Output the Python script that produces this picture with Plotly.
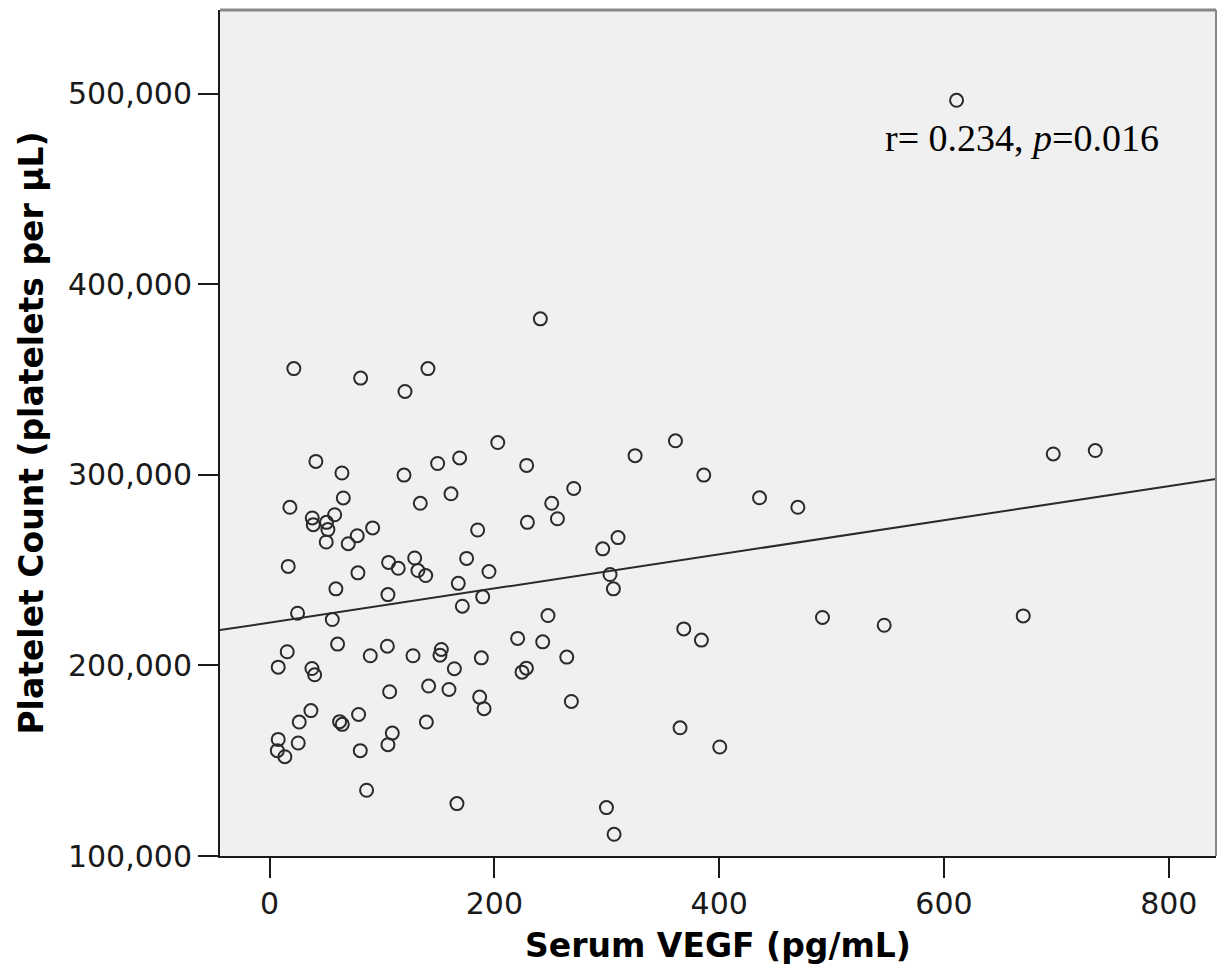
import plotly.graph_objects as go

# Serum VEGF (pg/mL)
vegf = [21.6, 81, 120.5, 140.9, 203, 41.2, 64.4, 119.6, 149.5, 169.1,
        18.1, 65.6, 134.1, 161.4, 38, 38.9, 50.7, 57.9, 51.9, 50.4,
        70, 78, 91.7, 185.1, 16.6, 78.6, 105.9, 114.5, 129.1, 132,
        138.9, 175.3, 195.2, 167.9, 59, 105.3, 189.6, 171.5, 24.9, 55.8,
        60.5, 15.7, 7.7, 37.7, 40.1, 89.6, 104.8, 127.6, 152.8, 151.6,
        164.4, 188.4, 106.8, 141.5, 159.6, 186.9, 190.8, 36.8, 26.4, 62.3,
        64.7, 79.2, 139.5, 109.2, 105.3, 80.7, 7.7, 6.9, 13.6, 25.5,
        86.3, 166.7, 240.9, 228.7, 325.2, 361.1, 386.3, 435.9, 270.6, 251,
        256.1, 229.4, 296.4, 310, 302.9, 305.9, 247.7, 220.7, 243, 264.4,
        228.5, 224.6, 268.5, 368.5, 384.2, 365.2, 400.5, 299.7, 306.5, 470,
        697.2, 734.6, 491.9, 546.8, 670.5, 611.2]

# Platelet count (platelets per uL)
platelets = [355800, 350800, 343800, 355800, 317000, 307100, 301000, 299900, 306000, 308900,
             283000, 287900, 285100, 290100, 277400, 273900, 275100, 279100, 271300, 264800,
             263900, 268100, 272200, 271100, 252000, 248600, 254100, 251000, 256400, 249800,
             247200, 256200, 249300, 243100, 240200, 237200, 236000, 231100, 227400, 224100,
             211200, 207200, 199100, 198400, 195100, 205100, 210100, 205100, 208400, 205400,
             198300, 204000, 186200, 189200, 187400, 183400, 177300, 176300, 170300, 170500,
             169100, 174300, 170300, 164500, 158400, 155300, 161200, 155300, 152100, 159300,
             134500, 127500, 381900, 305000, 310100, 317900, 299900, 288000, 292900, 285100,
             277000, 275100, 261200, 267100, 247700, 240200, 226200, 214200, 212400, 204400,
             198600, 196500, 181100, 219200, 213300, 167300, 157200, 125400, 111400, 283000,
             311000, 312800, 225200, 221100, 226000, 496600]

# Linear fit
fit_intercept = 222500
fit_slope = 89.5

x_range = [-44.1, 842]
y_range = [100000, 544000]
x_ticks = [0, 200, 400, 600, 800]
y_ticks = [100000, 200000, 300000, 400000, 500000]
y_tick_labels = ["100,000", "200,000", "300,000", "400,000", "500,000"]

fit_x = x_range
fit_y = [fit_intercept + fit_slope * v for v in fit_x]

fig = go.Figure()
fig.add_trace(go.Scatter(
    x=fit_x, y=fit_y, mode="lines",
    line=dict(color="#2a2a2a", width=2), hoverinfo="skip", showlegend=False))
fig.add_trace(go.Scatter(
    x=vegf, y=platelets, mode="markers",
    marker=dict(symbol="circle-open", size=13, color="#2a2a2a", line=dict(width=2)),
    showlegend=False))

fig.add_annotation(
    x=669, y=476700, xref="x", yref="y",
    text="r= 0.234, <i>p</i>=0.016", showarrow=False,
    font=dict(family="Liberation Serif", size=38, color="#000000"),
    xanchor="center", yanchor="middle")

# top and right frame lines (gray)
fig.add_shape(type="line", xref="paper", yref="paper", x0=0, x1=1, y0=1, y1=1,
              line=dict(color="#888888", width=3))
fig.add_shape(type="line", xref="paper", yref="paper", x0=1, x1=1, y0=0, y1=1,
              line=dict(color="#888888", width=2))

tick_font = dict(family="DejaVu Sans", size=30, color="#1a1a1a")
title_font = dict(family="DejaVu Sans", size=33, color="#000000")

fig.update_xaxes(
    range=x_range, tickvals=x_ticks, ticks="outside", ticklen=20, tickwidth=2,
    tickcolor="#1a1a1a", showline=True, linecolor="#1a1a1a", linewidth=2,
    showgrid=False, zeroline=False, tickfont=tick_font,
    title=dict(text="<b>Serum VEGF (pg/mL)</b>", font=title_font, standoff=14))
fig.update_yaxes(
    range=y_range, tickvals=y_ticks, ticktext=y_tick_labels, ticks="outside",
    ticklen=20, tickwidth=2, tickcolor="#1a1a1a", showline=True,
    linecolor="#1a1a1a", linewidth=2, showgrid=False, zeroline=False,
    tickfont=tick_font,
    title=dict(text="<b>Platelet Count (platelets per µL)</b>", font=title_font, standoff=14))

fig.update_layout(
    width=1217, height=979,
    margin=dict(l=220, r=1, t=10, b=123),
    plot_bgcolor="#f0f0f0", paper_bgcolor="#ffffff",
    showlegend=False)

fig.write_html("out.html", config={"displayModeBar": False},
               post_script="document.body.style.margin='0';document.body.style.overflow='hidden';")
